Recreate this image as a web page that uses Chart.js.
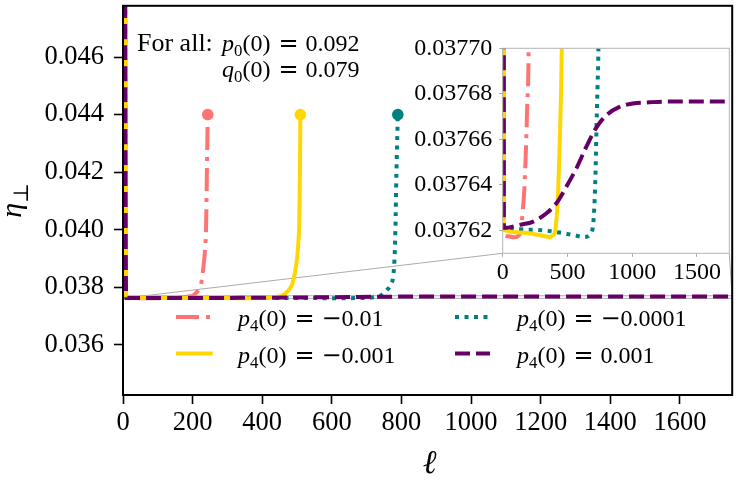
<!DOCTYPE html>
<html>
<head>
<meta charset="utf-8">
<script src="https://cdn.jsdelivr.net/npm/chart.js@4.4.0/dist/chart.umd.min.js"></script>
<style>
  html, body { margin: 0; padding: 0; background: #fff; }
  #wrap { position: relative; width: 738px; height: 484px; }
  #wrap canvas { position: absolute; left: 0; top: 0; }
</style>
</head>
<body>
<div id="wrap">
  <canvas id="mainChart" width="738" height="484"></canvas>
  <canvas id="insetChart" width="738" height="484"></canvas>
</div>
<script>
// --- data ---
const ellRange = [0, 1750];
const mainEtaRange = [0.03425, 0.04778];
const insetEtaRange = [0.03761, 0.03770];

const mainXTicks = [0, 200, 400, 600, 800, 1000, 1200, 1400, 1600];
const mainYTicks = [0.036, 0.038, 0.040, 0.042, 0.044, 0.046];
const insetXTicks = [0, 500, 1000, 1500];
const insetYTicks = [0.03762, 0.03764, 0.03766, 0.03768, 0.03770];

// p4(0) = -0.01
const ellA = [2, 9, 40, 85, 120, 140, 154, 167, 179, 189, 200, 206, 212, 218, 224, 230, 235, 238.5, 241, 243.5];
const etaA = [0.080, 0.037618, 0.0376175, 0.037617, 0.0376176, 0.037620, 0.037628, 0.037638, 0.037655, 0.037674,
              0.037698, 0.03775, 0.03783, 0.03793, 0.03808, 0.0386, 0.0392, 0.0400, 0.0420, 0.0440];
// p4(0) = -0.001
const ellB = [2, 9, 133, 236, 338, 364, 390, 402, 415, 428, 441, 451, 456, 463, 472, 480, 486, 493, 500, 504, 506.5, 508.3, 509.5];
const etaB = [0.080, 0.0376203, 0.0376191, 0.0376185, 0.0376174, 0.0376171, 0.037618, 0.0376189, 0.0376247, 0.0376364,
              0.0376597, 0.0376816, 0.0377, 0.03774, 0.03784, 0.03796, 0.03810, 0.03845, 0.0390, 0.0396, 0.0403, 0.0420, 0.0440];
// p4(0) = -0.0001
const ellC = [2, 9, 236, 441, 569, 633, 672, 697, 710, 718, 725, 733, 739, 749, 758, 768, 776, 780, 782.5, 785.5, 789.5];
const etaC = [0.080, 0.0376206, 0.0376203, 0.0376191, 0.0376177, 0.0376171, 0.0376181, 0.0376218, 0.0376334, 0.037648,
              0.037667, 0.0376845, 0.03770, 0.03779, 0.0379, 0.03805, 0.03837, 0.0390, 0.0400, 0.0420, 0.0440];
// p4(0) = 0.001
const ellD = [2, 9, 133, 236, 338, 415, 492, 569, 646, 723, 800, 902, 1005, 1133, 1261, 1750];
const etaD = [0.080, 0.0376211, 0.0376225, 0.0376239, 0.0376276, 0.037632, 0.0376393, 0.0376473, 0.0376568, 0.0376652,
              0.0376706, 0.0376743, 0.0376758, 0.0376763, 0.0376766, 0.0376766];

const legendValues = ['\u22120.01', '\u22120.001', '\u22120.0001', '0.001'];
const initialP0 = '0.092';
const initialQ0 = '0.079';

// --- styles ---
const SERIF = '"Liberation Serif", "DejaVu Serif", serif';
const MATHSYM = '"DejaVu Serif", serif';
const INSET = { left: 502.7, top: 48.3, right: 729.3, bottom: 253.3 };

// draw order: pink at the bottom, then teal, yellow, purple on top
const series = [
    { ell: ellA, eta: etaA, color: '#ff7373', dash: [23, 7, 4, 7], dot: true, order: 3 },
    { ell: ellB, eta: etaB, color: '#ffd700', dash: [], dot: true, order: 1 },
    { ell: ellC, eta: etaC, color: '#008080', dash: [4, 5.5], dot: true, order: 2 },
    { ell: ellD, eta: etaD, color: '#660066', dash: [15, 6], dot: false, order: 0 }
];

function toPoints(ell, eta) {
    return ell.map((x, i) => ({ x: x, y: eta[i] }));
}

function buildDatasets(withDots) {
    return series.map(s => ({
        data: toPoints(s.ell, s.eta),
        borderColor: s.color,
        backgroundColor: s.color,
        borderWidth: 4,
        borderDash: s.dash,
        borderCapStyle: 'butt',
        cubicInterpolationMode: 'monotone',
        fill: false,
        clip: 0,
        order: s.order,
        pointRadius: ctx => (withDots && s.dot && ctx.dataIndex === s.ell.length - 1) ? 5.8 : 0,
        pointHoverRadius: 0,
        pointBorderWidth: 0,
        pointBackgroundColor: s.color
    }));
}

function partFont(p, size) {
    const fs = p.sub ? size * 0.7 : size;
    return (p.it ? 'italic ' : '') + fs + 'px ' + (p.f || SERIF);
}

// draws italic/upright pieces with subscripts, y is the baseline
function drawRich(ctx, x, y, parts, size) {
    let cx = x;
    parts.forEach(p => {
        if (p.gap) { cx += p.gap; return; }
        ctx.font = partFont(p, size);
        ctx.fillText(p.t, cx, y + (p.sub ? size * 0.22 : 0));
        cx += ctx.measureText(p.t).width;
    });
    return cx - x;
}

function richWidth(ctx, parts, size) {
    let w = 0;
    parts.forEach(p => {
        if (p.gap) { w += p.gap; return; }
        ctx.font = partFont(p, size);
        w += ctx.measureText(p.t).width;
    });
    return w;
}

function mathEq(sym, idx, value) {
    return [{ t: sym, it: true }, { t: idx, sub: true }, { t: '(0)' }, { gap: 8 },
            { t: '=', f: MATHSYM }, { gap: 7 },
            ...(value.startsWith('\u2212') ? [{ t: '\u2212', f: MATHSYM }, { t: value.slice(1) }] : [{ t: value }])];
}

function fixedTicks(values) {
    return scale => { scale.ticks = values.map(v => ({ value: v })); };
}

const mainDecor = {
    id: 'mainDecor',
    beforeDatasetsDraw(chart) {
        const { ctx, scales: { x, y } } = chart;
        const x0 = x.getPixelForValue(ellRange[0]);
        const x1 = x.getPixelForValue(ellRange[1]);
        const yLo = y.getPixelForValue(insetEtaRange[0]);
        const yHi = y.getPixelForValue(insetEtaRange[1]);
        ctx.save();
        ctx.strokeStyle = '#ababab';
        ctx.lineWidth = 1;
        ctx.strokeRect(x0, yHi, x1 - x0, yLo - yHi);
        ctx.beginPath();
        ctx.moveTo(x0, yLo); ctx.lineTo(INSET.left, INSET.bottom);
        ctx.moveTo(x1, yLo); ctx.lineTo(INSET.right, INSET.bottom);
        ctx.stroke();
        ctx.restore();
    },
    afterDatasetsDraw(chart) {
        const { ctx, chartArea: a } = chart;
        ctx.save();
        ctx.strokeStyle = '#000';
        ctx.lineWidth = 2;
        ctx.strokeRect(a.left, a.top, a.right - a.left, a.bottom - a.top);
        ctx.restore();
    },
    afterDraw(chart) {
        const { ctx, chartArea: a } = chart;
        ctx.save();
        ctx.fillStyle = '#000';
        ctx.textBaseline = 'alphabetic';

        // annotation
        ctx.font = '26px ' + SERIF;
        ctx.fillText('For all:', 137, 51);
        drawRich(ctx, 222, 51, mathEq('p', '0', initialP0), 24);
        drawRich(ctx, 222, 77, mathEq('q', '0', initialQ0), 24);

        // legend, two columns
        const cols = [{ x1: 176, x2: 212.7, tx: 238 }, { x1: 455, x2: 490, tx: 517 }];
        const rows = [326, 362.5];
        series.forEach((s, i) => {
            const c = cols[Math.floor(i / 2)];
            const base = rows[i % 2];
            ctx.save();
            ctx.strokeStyle = s.color;
            ctx.lineWidth = 4;
            ctx.lineCap = 'butt';
            ctx.setLineDash(s.dash);
            ctx.beginPath();
            ctx.moveTo(c.x1, base - 9);
            ctx.lineTo(c.x2, base - 9);
            ctx.stroke();
            ctx.restore();
            drawRich(ctx, c.tx, base, mathEq('p', '4', legendValues[i]), 24);
        });

        // x title
        ctx.font = 'italic 33px ' + SERIF;
        ctx.textAlign = 'center';
        ctx.fillText('\u2113', (a.left + a.right) / 2 + 2, 473);
        ctx.textAlign = 'left';

        // y title, rotated
        const yParts = [{ t: '\u03b7', it: true }, { t: '\u22a5', sub: true }];
        ctx.translate(21, (a.top + a.bottom) / 2);
        ctx.rotate(-Math.PI / 2);
        const w = richWidth(ctx, yParts, 30);
        drawRich(ctx, -w / 2, 0, yParts, 30);
        ctx.restore();
    }
};

const insetDecor = {
    id: 'insetDecor',
    beforeDatasetsDraw(chart) {
        const { ctx, chartArea: a } = chart;
        ctx.save();
        ctx.fillStyle = '#fff';
        ctx.fillRect(a.left, a.top, a.right - a.left, a.bottom - a.top);
        ctx.restore();
    },
    afterDatasetsDraw(chart) {
        const { ctx, chartArea: a } = chart;
        ctx.save();
        ctx.strokeStyle = '#b4b4b4';
        ctx.lineWidth = 1;
        ctx.strokeRect(a.left, a.top, a.right - a.left, a.bottom - a.top);
        ctx.restore();
    }
};

const mainChart = new Chart(document.getElementById('mainChart'), {
    type: 'line',
    data: { datasets: buildDatasets(true) },
    options: {
        responsive: false,
        animation: false,
        events: [],
        layout: { padding: { top: 1, left: 0, right: 3, bottom: 0 } },
        plugins: { legend: { display: false }, tooltip: { enabled: false } },
        scales: {
            x: {
                type: 'linear',
                min: ellRange[0],
                max: ellRange[1],
                afterBuildTicks: fixedTicks(mainXTicks),
                afterFit: s => { s.height = 89; s.paddingLeft = 0; s.paddingRight = 0; },
                ticks: { autoSkip: false, maxRotation: 0, padding: 3, color: '#000',
                         font: { family: SERIF, size: 26.5 }, callback: v => String(v) },
                grid: { drawOnChartArea: false, tickLength: 9, tickWidth: 1.6, tickColor: '#000' },
                border: { display: false }
            },
            y: {
                type: 'linear',
                min: mainEtaRange[0],
                max: mainEtaRange[1],
                afterBuildTicks: fixedTicks(mainYTicks),
                afterFit: s => { s.width = 123; s.paddingTop = 0; s.paddingBottom = 0; },
                ticks: { autoSkip: false, padding: 10, color: '#000',
                         font: { family: SERIF, size: 26.5 }, callback: v => v.toFixed(3) },
                grid: { drawOnChartArea: false, tickLength: 9, tickWidth: 1.6, tickColor: '#000' },
                border: { display: false }
            }
        }
    },
    plugins: [mainDecor]
});

const insetChart = new Chart(document.getElementById('insetChart'), {
    type: 'line',
    data: { datasets: buildDatasets(false) },
    options: {
        responsive: false,
        animation: false,
        events: [],
        layout: { padding: { top: INSET.top, left: 400, right: 738 - INSET.right, bottom: 484 - INSET.bottom - 40 } },
        plugins: { legend: { display: false }, tooltip: { enabled: false } },
        scales: {
            x: {
                type: 'linear',
                min: ellRange[0],
                max: ellRange[1],
                afterBuildTicks: fixedTicks(insetXTicks),
                afterFit: s => { s.height = 40; s.paddingLeft = 0; s.paddingRight = 0; },
                ticks: { autoSkip: false, maxRotation: 0, padding: 2, color: '#000',
                         font: { family: SERIF, size: 24 }, callback: v => String(v) },
                grid: { drawOnChartArea: false, tickLength: 3.5, tickWidth: 1, tickColor: '#a8a8a8' },
                border: { display: false }
            },
            y: {
                type: 'linear',
                min: insetEtaRange[0],
                max: insetEtaRange[1],
                afterBuildTicks: fixedTicks(insetYTicks),
                afterFit: s => { s.width = INSET.left - 400; s.paddingTop = 0; s.paddingBottom = 0; },
                ticks: { autoSkip: false, padding: 7, color: '#000',
                         font: { family: SERIF, size: 24 }, callback: v => v.toFixed(5) },
                grid: { drawOnChartArea: false, tickLength: 3.5, tickWidth: 1, tickColor: '#a8a8a8' },
                border: { display: false }
            }
        }
    },
    plugins: [insetDecor]
});
</script>
</body>
</html>
